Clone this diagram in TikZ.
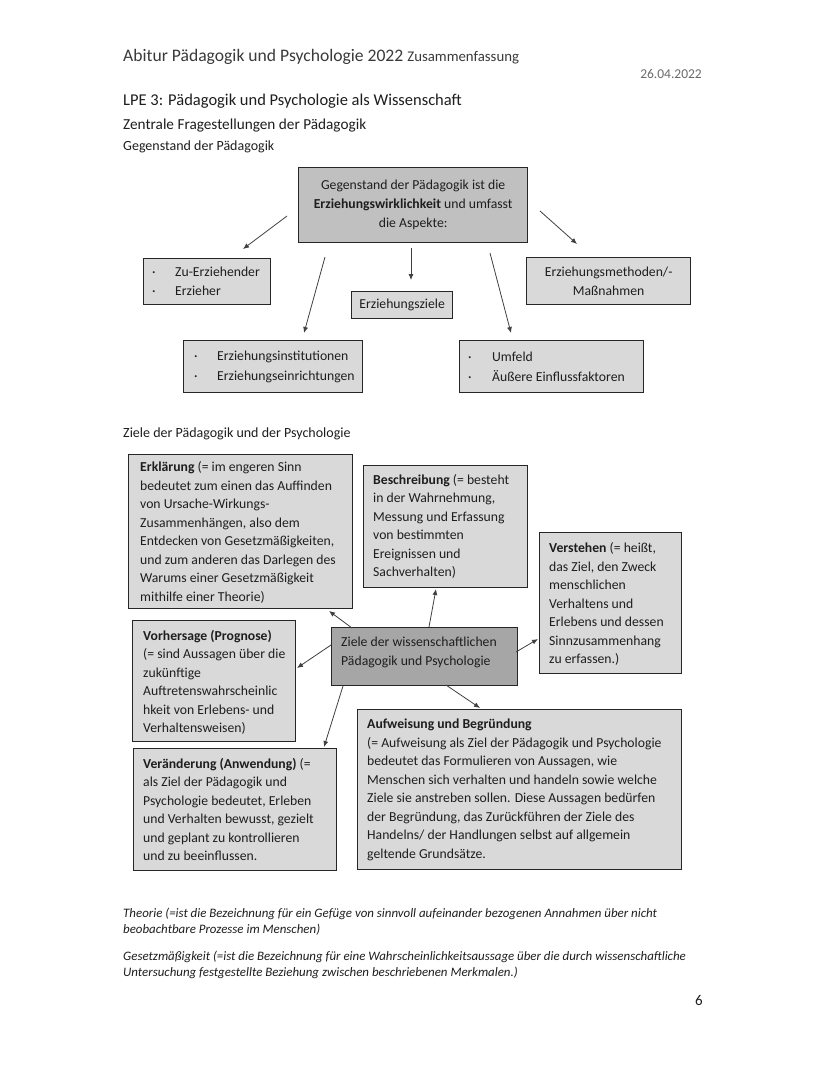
\documentclass[tikz,border=0pt]{standalone}
\usepackage{fontspec}
\setmainfont{Carlito}
\usetikzlibrary{arrows.meta}
\definecolor{boxlight}{HTML}{D9D9D9}
\definecolor{boxmid}{HTML}{C0C0C0}
\definecolor{boxdark}{HTML}{A6A6A6}
\definecolor{txt}{HTML}{1E1E1E}
\definecolor{hdr}{HTML}{3A3A3A}
\definecolor{dategray}{HTML}{6A6A6A}
\newcommand{\bul}[1]{\makebox[#1][l]{\textperiodcentered}}
\begin{document}
\begin{tikzpicture}[x=1pt,y=-1pt,
  boxshape/.style={draw=black!85, line width=1.3pt, fill=boxlight, anchor=north west,
    inner sep=0pt, text=txt, font=\fontsize{13.7}{19}\selectfont, align=center},
  boxtext/.style={anchor=west, inner sep=0pt, text=txt, align=left,
    font=\fontsize{13.7}{18.5}\selectfont},
  arr/.style={draw=black!75, line width=0.8pt, -{Latex[length=6pt,width=5pt]}},
  plain/.style={anchor=base west, inner sep=0pt, text=txt}]
\useasboundingbox[fill=white] (0,0) rectangle (828,1071);

% header
\node[plain, text=hdr, font=\fontsize{17.6}{21}\selectfont] (title) at (123,61)
  {Abitur Pädagogik und Psychologie 2022 {\fontsize{14.8}{18}\selectfont Zusammenfassung}};
\node[anchor=base east, inner sep=0pt, text=dategray, font=\fontsize{13.5}{16}\selectfont] (date) at (702,78) {26.04.2022};
\node[plain, font=\fontsize{16.5}{19}\selectfont] (lpe) at (123,105) {LPE 3: Pädagogik und Psychologie als Wissenschaft};
\node[plain, font=\fontsize{15.25}{18}\selectfont] (zentr) at (123,129) {Zentrale Fragestellungen der Pädagogik};
\node[plain, font=\fontsize{14}{17}\selectfont] (gegen) at (123,150) {Gegenstand der Pädagogik};

% top diagram
\node[boxshape, fill=boxmid, minimum width=229pt, minimum height=75pt] (main) at (298,167)
  {Gegenstand der Pädagogik ist die\\ \textbf{Erziehungswirklichkeit} und umfasst\\ die Aspekte:};
\node[boxshape, minimum width=127pt, minimum height=46pt] (zu) at (143,258) {};
\node[boxtext, font=\fontsize{13.7}{19}\selectfont] (zuT) at ([xshift=9pt]zu.west)
  {\bul{23pt}Zu-Erziehender\\ \bul{23pt}Erzieher};
\node[boxshape, minimum width=101pt, minimum height=27pt] (ezi) at (351,291) {Erziehungsziele};
\node[boxshape, minimum width=164pt, minimum height=47pt] (meth) at (526,257)
  {Erziehungsmethoden/-\\Maßnahmen};
\node[boxshape, minimum width=179pt, minimum height=52pt] (inst) at (183,340) {};
\node[boxtext, font=\fontsize{13.7}{20}\selectfont] (instT) at ([xshift=11pt]inst.west)
  {\bul{23pt}Erziehungsinstitutionen\\ \bul{23pt}Erziehungseinrichtungen};
\node[boxshape, minimum width=184pt, minimum height=52pt] (umf) at (459,340) {};
\node[boxtext, font=\fontsize{13.7}{20}\selectfont] (umfT) at ([xshift=9pt]umf.west)
  {\bul{24pt}Umfeld\\ \bul{24pt}Äußere Einflussfaktoren};

\coordinate (a1s) at (287,216); \coordinate (a1e) at (243,249);
\coordinate (a2s) at (325,257); \coordinate (a2e) at (304,333);
\coordinate (a3s) at (411,248); \coordinate (a3e) at (411,280);
\coordinate (a4s) at (490,253); \coordinate (a4e) at (511,333);
\coordinate (a5s) at (540,211); \coordinate (a5e) at (577,244);
\draw[arr] (a1s) -- (a1e);
\draw[arr] (a2s) -- (a2e);
\draw[arr] (a3s) -- (a3e);
\draw[arr] (a4s) -- (a4e);
\draw[arr] (a5s) -- (a5e);

% bottom diagram
\node[plain, font=\fontsize{14}{17}\selectfont] (ziele) at (123,437) {Ziele der Pädagogik und der Psychologie};

\node[boxshape, minimum width=224pt, minimum height=154pt] (erkl) at (128,454) {};
\node[boxtext] (erklT) at ([xshift=12pt,yshift=-1pt]erkl.west)
  {\textbf{Erklärung} (= im engeren Sinn\\ bedeutet zum einen das Auffinden\\ von Ursache-Wirkungs-\\ Zusammenhängen, also dem\\ Entdecken von Gesetzmäßigkeiten,\\ und zum anderen das Darlegen des\\ Warums einer Gesetzmäßigkeit\\ mithilfe einer Theorie)};
\node[boxshape, minimum width=164pt, minimum height=122pt] (besch) at (363,465) {};
\node[boxtext] (beschT) at ([xshift=10pt]besch.west)
  {\textbf{Beschreibung} (= besteht\\ in der Wahrnehmung,\\ Messung und Erfassung\\ von bestimmten\\ Ereignissen und\\ Sachverhalten)};
\node[boxshape, minimum width=142pt, minimum height=141pt] (verst) at (539,532) {};
\node[boxtext] (verstT) at ([xshift=10pt,yshift=-1pt]verst.west)
  {\textbf{Verstehen} (= heißt,\\ das Ziel, den Zweck\\ menschlichen\\ Verhaltens und\\ Erlebens und dessen\\ Sinnzusammenhang\\ zu erfassen.)};
\node[boxshape, fill=boxdark, minimum width=186pt, minimum height=58pt] (ctr) at (331,627) {};
\node[boxtext] (ctrT) at ([xshift=10pt,yshift=4pt]ctr.west)
  {Ziele der wissenschaftlichen\\ Pädagogik und Psychologie};
\node[boxshape, minimum width=163pt, minimum height=121pt] (vorh) at (132,620) {};
\node[boxtext] (vorhT) at ([xshift=11pt,yshift=-1pt]vorh.west)
  {\textbf{Vorhersage (Prognose)}\\ (= sind Aussagen über die\\ zukünftige\\ Auftretenswahrscheinlic\\ hkeit von Erlebens- und\\ Verhaltensweisen)};
\node[boxshape, minimum width=203pt, minimum height=122pt] (veraend) at (133,748) {};
\node[boxtext] (veraendT) at ([xshift=10pt]veraend.west)
  {\textbf{Veränderung (Anwendung)} (=\\ als Ziel der Pädagogik und\\ Psychologie bedeutet, Erleben\\ und Verhalten bewusst, gezielt\\ und geplant zu kontrollieren\\ und zu beeinflussen.};
\node[boxshape, minimum width=324pt, minimum height=160pt] (aufw) at (357,709) {};
\node[boxtext] (aufwT) at ([xshift=10pt]aufw.west)
  {\textbf{Aufweisung und Begründung}\\ (= Aufweisung als Ziel der Pädagogik und Psychologie\\ bedeutet das Formulieren von Aussagen, wie\\ Menschen sich verhalten und handeln sowie welche\\ Ziele sie anstreben sollen. Diese Aussagen bedürfen\\ der Begründung, das Zurückführen der Ziele des\\ Handelns/ der Handlungen selbst auf allgemein\\ geltende Grundsätze.};

\coordinate (b1s) at (352,628); \coordinate (b1e) at (329,611);
\coordinate (b2s) at (429,627); \coordinate (b2e) at (436,589);
\coordinate (b3s) at (516,652); \coordinate (b3e) at (538,639);
\coordinate (b4s) at (331,645); \coordinate (b4e) at (297,668);
\coordinate (b5s) at (343,686); \coordinate (b5e) at (324,747);
\coordinate (b6s) at (446,685); \coordinate (b6e) at (480,708);
\draw[arr] (b1s) -- (b1e);
\draw[arr] (b2s) -- (b2e);
\draw[arr] (b3s) -- (b3e);
\draw[arr] (b4s) -- (b4e);
\draw[arr] (b5s) -- (b5e);
\draw[arr] (b6s) -- (b6e);

% footnotes
\node[plain, font=\fontsize{12.9}{16}\itshape, align=left, anchor=north west] (fn1) at (123,908)
  {Theorie (=ist die Bezeichnung für ein Gefüge von sinnvoll aufeinander bezogenen Annahmen über nicht\\ beobachtbare Prozesse im Menschen)};
\node[plain, font=\fontsize{12.9}{16}\itshape, align=left, anchor=north west] (fn2) at (123,951)
  {Gesetzmäßigkeit (=ist die Bezeichnung für eine Wahrscheinlichkeitsaussage über die durch wissenschaftliche\\ Untersuchung festgestellte Beziehung zwischen beschriebenen Merkmalen.)};
\node[anchor=base east, inner sep=0pt, text=txt, font=\fontsize{15}{18}\selectfont] (page) at (703,1005) {6};
\end{tikzpicture}
\end{document}
